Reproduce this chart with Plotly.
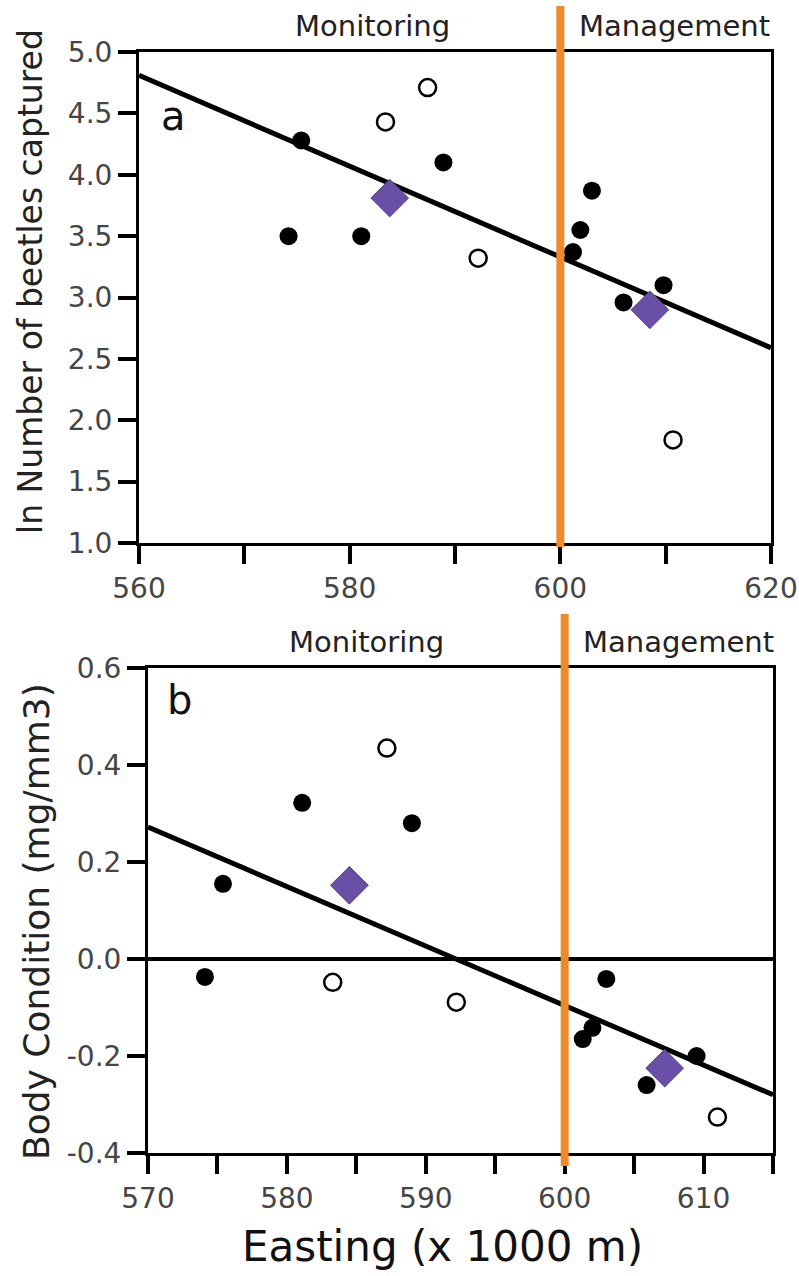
import plotly.graph_objects as go

W, H = 799, 1276

# ---------------- Data ----------------
# Panel a: ln number of beetles captured vs Easting (x1000 m)
a_filled_x = [575.4, 574.2, 581.1, 588.9, 603.0, 601.9, 601.2, 606.0, 609.8]
a_filled_y = [4.28, 3.50, 3.50, 4.10, 3.87, 3.55, 3.37, 2.96, 3.10]
a_open_x = [587.4, 583.4, 592.2, 610.7]
a_open_y = [4.71, 4.43, 3.32, 1.84]
a_mean_x = [583.8, 608.5]
a_mean_y = [3.81, 2.90]
a_fit_x = [560, 620]
a_fit_y = [4.81, 2.59]

# Panel b: body condition vs Easting
b_filled_x = [575.4, 581.1, 589.0, 574.1, 603.0, 602.0, 601.3, 605.9, 609.5]
b_filled_y = [0.155, 0.322, 0.28, -0.037, -0.041, -0.142, -0.165, -0.26, -0.20]
b_open_x = [587.2, 583.3, 592.2, 611.0]
b_open_y = [0.435, -0.048, -0.089, -0.326]
b_mean_x = [584.5, 607.2]
b_mean_y = [0.152, -0.225]
b_fit_x = [570, 615]
b_fit_y = [0.272, -0.28]

boundary_x = 600

a_xticks = [560, 570, 580, 590, 600, 610, 620]
a_xlabels = ["560", "", "580", "", "600", "", "620"]
a_yticks = [1.0, 1.5, 2.0, 2.5, 3.0, 3.5, 4.0, 4.5, 5.0]
a_ylabels = ["1.0", "1.5", "2.0", "2.5", "3.0", "3.5", "4.0", "4.5", "5.0"]
b_xticks = [570, 575, 580, 585, 590, 595, 600, 605, 610, 615]
b_xlabels = ["570", "", "580", "", "590", "", "600", "", "610", ""]
b_yticks = [-0.4, -0.2, 0.0, 0.2, 0.4, 0.6]
b_ylabels = ["-0.4", "-0.2", "0.0", "0.2", "0.4", "0.6"]

PURPLE = "#6A4FA6"
ORANGE = "#EE8A2A"
TICKFONT = dict(family="DejaVu Sans", size=28, color="#454545")
TITLEFONT = "DejaVu Sans"


def px(x):
    return x / W


def py(y):
    return 1 - y / H


fig = go.Figure()


def add_panel(xa, ya, fx, fy, fdx, fdy, ox, oy, mx, my):
    fig.add_trace(go.Scatter(x=fx, y=fy, mode="lines", xaxis=xa, yaxis=ya,
                             line=dict(color="black", width=5), showlegend=False))
    fig.add_trace(go.Scatter(x=fdx, y=fdy, mode="markers", xaxis=xa, yaxis=ya,
                             marker=dict(symbol="circle", size=18, color="black"),
                             showlegend=False))
    fig.add_trace(go.Scatter(x=ox, y=oy, mode="markers", xaxis=xa, yaxis=ya,
                             marker=dict(symbol="circle", size=17, color="white",
                                         line=dict(color="black", width=2.5)),
                             showlegend=False))
    fig.add_trace(go.Scatter(x=mx, y=my, mode="markers", xaxis=xa, yaxis=ya,
                             marker=dict(symbol="diamond", size=29, color=PURPLE,
                                         line=dict(color="#5a4290", width=1)),
                             showlegend=False))


add_panel("x", "y", a_fit_x, a_fit_y, a_filled_x, a_filled_y,
          a_open_x, a_open_y, a_mean_x, a_mean_y)
add_panel("x2", "y2", b_fit_x, b_fit_y, b_filled_x, b_filled_y,
          b_open_x, b_open_y, b_mean_x, b_mean_y)

axis_common = dict(showline=True, linecolor="black", linewidth=3, mirror=True,
                   ticks="outside", ticklen=18, tickwidth=4, tickcolor="black",
                   showgrid=False, tickfont=TICKFONT, fixedrange=True,
                   automargin=False)

fig.update_layout(
    template="none",
    width=W, height=H,
    margin=dict(l=0, r=0, t=0, b=0, pad=0),
    paper_bgcolor="white", plot_bgcolor="white",
    xaxis=dict(domain=[px(139), px(771)], range=[560, 620], anchor="y",
               tickvals=a_xticks, ticktext=a_xlabels, zeroline=False, **axis_common),
    yaxis=dict(domain=[py(543), py(52)], range=[1.0, 5.0], anchor="x",
               tickvals=a_yticks, ticktext=a_ylabels, zeroline=False, **axis_common),
    xaxis2=dict(domain=[px(148), px(773)], range=[570, 615], anchor="y2",
                tickvals=b_xticks, ticktext=b_xlabels, zeroline=False, **axis_common),
    yaxis2=dict(domain=[py(1153), py(668)], range=[-0.4, 0.6], anchor="x2",
                tickvals=b_yticks, ticktext=b_ylabels, zeroline=True,
                zerolinecolor="black", zerolinewidth=4, **axis_common),
)

# Orange management boundary lines (extend above the plot frames)
fig.add_shape(type="line", xref="x", yref="paper", x0=boundary_x, x1=boundary_x,
              y0=py(547), y1=py(6), line=dict(color=ORANGE, width=8), layer="above")
fig.add_shape(type="line", xref="x2", yref="paper", x0=boundary_x, x1=boundary_x,
              y0=py(1166), y1=py(614), line=dict(color=ORANGE, width=8), layer="above")

ann = []
for (x, y, t) in [(372, 26, "Monitoring"), (674, 26, "Management"),
                  (366, 642, "Monitoring"), (678, 642, "Management")]:
    ann.append(dict(x=px(x), y=py(y), xref="paper", yref="paper", text=t,
                    showarrow=False, xanchor="center", yanchor="middle",
                    font=dict(family=TITLEFONT, size=29, color="#222")))
ann.append(dict(x=px(173), y=py(116), xref="paper", yref="paper", text="a",
                showarrow=False, xanchor="center", yanchor="middle",
                font=dict(family=TITLEFONT, size=40, color="#111")))
ann.append(dict(x=px(179), y=py(700), xref="paper", yref="paper", text="b",
                showarrow=False, xanchor="center", yanchor="middle",
                font=dict(family=TITLEFONT, size=40, color="#111")))
ann.append(dict(x=px(30), y=py(282), xref="paper", yref="paper",
                text="ln Number of beetles captured", textangle=-90,
                showarrow=False, xanchor="center", yanchor="middle",
                font=dict(family=TITLEFONT, size=33, color="#222")))
ann.append(dict(x=px(36), y=py(922), xref="paper", yref="paper",
                text="Body Condition (mg/mm3)", textangle=-90,
                showarrow=False, xanchor="center", yanchor="middle",
                font=dict(family=TITLEFONT, size=36, color="#222")))
ann.append(dict(x=px(442), y=py(1246), xref="paper", yref="paper",
                text="Easting (x 1000 m)", showarrow=False,
                xanchor="center", yanchor="middle",
                font=dict(family=TITLEFONT, size=42, color="#111")))
fig.update_layout(annotations=ann)

fig.write_html(
    "out.html",
    config={"displayModeBar": False, "staticPlot": True},
    post_script="document.body.style.margin='0';document.body.style.overflow='hidden';",
)
